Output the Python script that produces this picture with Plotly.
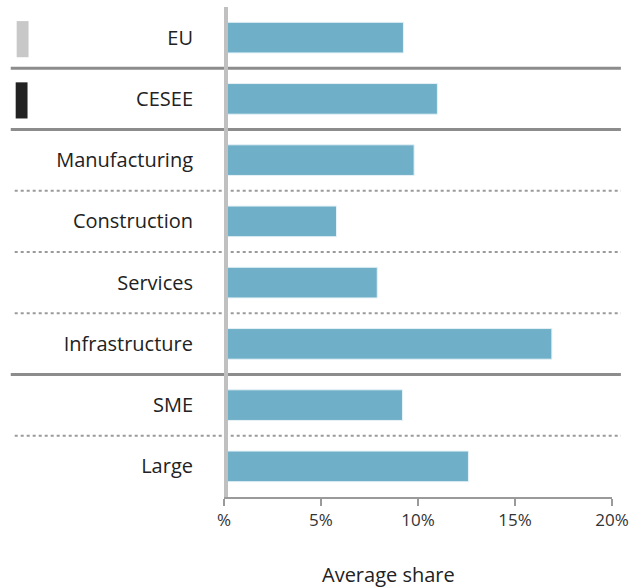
import plotly.graph_objects as go

categories = ["EU", "CESEE", "Manufacturing", "Construction", "Services",
              "Infrastructure", "SME", "Large"]
values = [9.25, 11.0, 9.8, 5.8, 7.9, 16.9, 9.2, 12.6]
tick_vals = [0, 5, 10, 15, 20]
tick_text = ["%", "5%", "10%", "15%", "20%"]
solid_separators = [0.5, 1.5, 5.5]
dotted_separators = [2.5, 3.5, 4.5, 6.5]

FONT = "Open Sans, Noto Sans, sans-serif"
L, R, T, B = 224, 19, 7, 91
W, H = 636, 588
pw = W - L - R

def px2paper(x):
    return (x - L) / pw

fig = go.Figure()
fig.add_trace(go.Bar(
    x=values, y=categories, orientation="h",
    marker=dict(color="#6fafc8", line=dict(color="#e6f2f7", width=1)),
    width=0.5, hoverinfo="skip",
))

shapes = []
for s in solid_separators:
    shapes.append(dict(type="line", xref="paper", yref="y",
                       x0=px2paper(8), x1=px2paper(626), y0=s, y1=s,
                       line=dict(color="#8c8c8c", width=3), layer="above"))
for s in dotted_separators:
    shapes.append(dict(type="line", xref="paper", yref="y",
                       x0=px2paper(12), x1=px2paper(626), y0=s, y1=s,
                       line=dict(color="#9a9a9a", width=2, dash="dot"), layer="below"))
# vertical zero line
shapes.append(dict(type="line", xref="x", yref="paper", x0=0, x1=0,
                   y0=0, y1=1.0, line=dict(color="#c0c0c0", width=8), layer="above"))
# legend-like swatches
shapes.append(dict(type="rect", xref="paper", yref="y",
                   x0=px2paper(14), x1=px2paper(26), y0=-0.27, y1=0.32,
                   fillcolor="#c8c8c8", line=dict(width=0)))
shapes.append(dict(type="rect", xref="paper", yref="y",
                   x0=px2paper(13), x1=px2paper(25), y0=0.73, y1=1.32,
                   fillcolor="#222222", line=dict(width=0)))

fig.update_layout(
    width=W, height=H,
    margin=dict(l=L, r=R, t=T, b=B, pad=0),
    plot_bgcolor="white", paper_bgcolor="white",
    showlegend=False,
    shapes=shapes,
    font=dict(family=FONT, color="#333333"),
    xaxis=dict(range=[0, 20], tickvals=tick_vals, ticktext=tick_text,
               showgrid=False, zeroline=False, showline=True,
               linecolor="#9a9a9a", linewidth=2, ticks="outside",
               ticklen=7, tickwidth=2, tickcolor="#9a9a9a",
               tickfont=dict(size=17, family=FONT, color="#333333")),
    yaxis=dict(type="category", categoryorder="array", categoryarray=categories,
               autorange="reversed", showgrid=False, zeroline=False,
               showline=False, ticks="", ticklabelstandoff=30,
               tickfont=dict(size=20, family=FONT, color="#222222")),
    annotations=[dict(text="Average share", xref="paper", yref="paper",
                      x=px2paper(391), y=-0.158, xanchor="center", yanchor="middle",
                      showarrow=False, font=dict(size=20, family=FONT, color="#222222"))],
)

fig.write_html("out.html", config={"displayModeBar": False},
               post_script="document.body.style.margin='0';document.body.style.padding='0';")
